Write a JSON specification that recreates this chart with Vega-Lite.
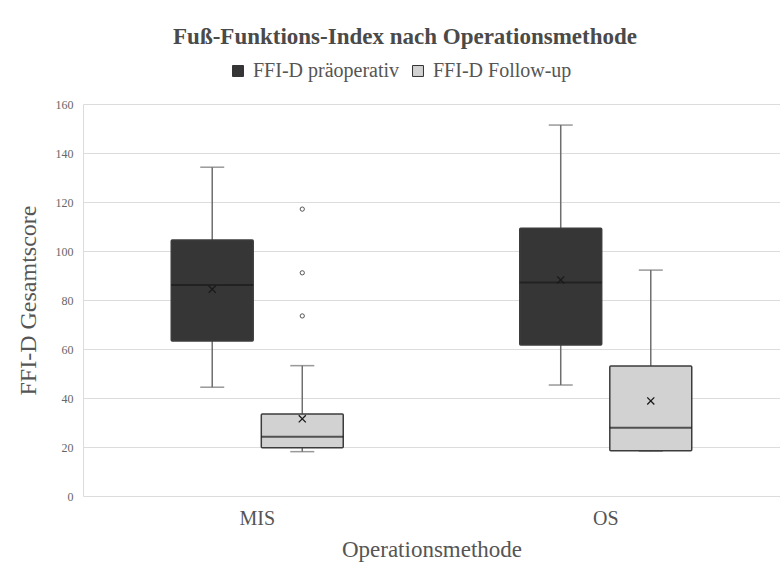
{
  "$schema": "https://vega.github.io/schema/vega-lite/v6.json",
  "width": 697,
  "height": 392,
  "autosize": {"type": "none"},
  "padding": {"left": 83, "top": 104, "right": 0, "bottom": 70},
  "background": "white",
  "title": {
    "text": "Fuß-Funktions-Index nach Operationsmethode",
    "font": "Liberation Serif",
    "fontSize": 23,
    "fontWeight": "bold",
    "color": "#4a4a4a",
    "anchor": "middle",
    "frame": "bounds",
    "offset": 12,
    "dx": 7
  },
  "datasets": {
    "stats": [
      {"method": "MIS", "series": "FFI-D präoperativ", "min": 44.4, "q1": 63.3, "median": 86.1, "q3": 104.5, "max": 134.2, "mean": 84.4},
      {"method": "MIS", "series": "FFI-D Follow-up", "min": 18.1, "q1": 19.7, "median": 24.2, "q3": 33.5, "max": 53.2, "mean": 31.5},
      {"method": "OS", "series": "FFI-D präoperativ", "min": 45.3, "q1": 61.6, "median": 87.1, "q3": 109.3, "max": 151.4, "mean": 88.2},
      {"method": "OS", "series": "FFI-D Follow-up", "min": 18.3, "q1": 18.5, "median": 27.9, "q3": 53.1, "max": 92.2, "mean": 38.8}
    ],
    "outliers": [
      {"method": "MIS", "series": "FFI-D Follow-up", "value": 117.1},
      {"method": "MIS", "series": "FFI-D Follow-up", "value": 91.1},
      {"method": "MIS", "series": "FFI-D Follow-up", "value": 73.5}
    ]
  },
  "encoding": {
    "x": {
      "field": "method",
      "type": "nominal",
      "sort": ["MIS", "OS"],
      "scale": {"paddingInner": 0, "paddingOuter": 0},
      "axis": {
        "title": "Operationsmethode",
        "titleFont": "Liberation Serif",
        "titleFontSize": 23,
        "titleFontWeight": "normal",
        "titleColor": "#555555",
        "titlePadding": 10,
        "labelFont": "Liberation Serif",
        "labelFontSize": 20,
        "labelColor": "#555555",
        "labelAngle": 0,
        "labelPadding": 12,
        "ticks": false,
        "domain": false
      }
    },
    "xOffset": {
      "field": "series",
      "type": "nominal",
      "sort": ["FFI-D präoperativ", "FFI-D Follow-up"],
      "scale": {"paddingInner": 0.09, "paddingOuter": 0.98}
    }
  },
  "layer": [
    {
      "data": {"name": "stats"},
      "mark": {"type": "rule", "color": "#6e6e6e", "strokeWidth": 1.5},
      "encoding": {
        "y": {
          "field": "min",
          "type": "quantitative",
          "scale": {"domain": [0, 160], "nice": false},
          "axis": {
            "title": "FFI-D Gesamtscore",
            "titleFont": "Liberation Serif",
            "titleFontSize": 24,
            "titleFontWeight": "normal",
            "titleColor": "#555555",
            "titlePadding": 15,
            "labelFont": "Liberation Serif",
            "labelFontSize": 12,
            "labelColor": "#666666",
            "labelPadding": 10,
            "values": [0, 20, 40, 60, 80, 100, 120, 140, 160],
            "ticks": false,
            "grid": true,
            "gridColor": "#dcdcdc",
            "gridWidth": 1,
            "domain": true,
            "domainColor": "#dcdcdc"
          }
        },
        "y2": {"field": "max"}
      }
    },
    {
      "data": {"name": "stats"},
      "mark": {"type": "tick", "color": "#6e6e6e", "thickness": 1.5, "size": 24, "orient": "horizontal"},
      "encoding": {"y": {"field": "min", "type": "quantitative"}}
    },
    {
      "data": {"name": "stats"},
      "mark": {"type": "tick", "color": "#6e6e6e", "thickness": 1.5, "size": 24, "orient": "horizontal"},
      "encoding": {"y": {"field": "max", "type": "quantitative"}}
    },
    {
      "data": {"name": "stats"},
      "mark": {"type": "bar", "stroke": "#3c3c3c", "strokeWidth": 1.5, "cornerRadius": 1},
      "encoding": {
        "y": {"field": "q1", "type": "quantitative"},
        "y2": {"field": "q3"},
        "color": {
          "field": "series",
          "type": "nominal",
          "scale": {"domain": ["FFI-D präoperativ", "FFI-D Follow-up"], "range": ["#363636", "#d2d2d2"]},
          "legend": {
            "title": null,
            "orient": "none",
            "legendX": 145,
            "legendY": -43,
            "direction": "horizontal",
            "symbolType": "square",
            "symbolSize": 120,
            "symbolStrokeColor": "#333333",
            "symbolStrokeWidth": 1,
            "labelFont": "Liberation Serif",
            "labelFontSize": 20,
            "labelColor": "#555555",
            "labelLimit": 300,
            "columnPadding": 8,
            "labelOffset": 5
          }
        }
      }
    },
    {
      "data": {"name": "stats"},
      "mark": {"type": "tick", "color": "#1a1a1a", "thickness": 2, "size": 82, "orient": "horizontal"},
      "encoding": {"y": {"field": "median", "type": "quantitative"}}
    },
    {
      "data": {"name": "stats"},
      "mark": {"type": "point", "shape": "M-1,-1L1,1M-1,1L1,-1", "size": 50, "stroke": "#1a1a1a", "strokeWidth": 1.3, "filled": false, "opacity": 1},
      "encoding": {"y": {"field": "mean", "type": "quantitative"}}
    },
    {
      "data": {"name": "outliers"},
      "mark": {"type": "point", "shape": "circle", "size": 18, "stroke": "#555555", "strokeWidth": 1, "fill": "white", "filled": true, "opacity": 1},
      "encoding": {"y": {"field": "value", "type": "quantitative"}}
    }
  ],
  "config": {
    "view": {"stroke": null},
    "font": "Liberation Serif",
    "legend": {"labelFont": "Liberation Serif"}
  }
}
